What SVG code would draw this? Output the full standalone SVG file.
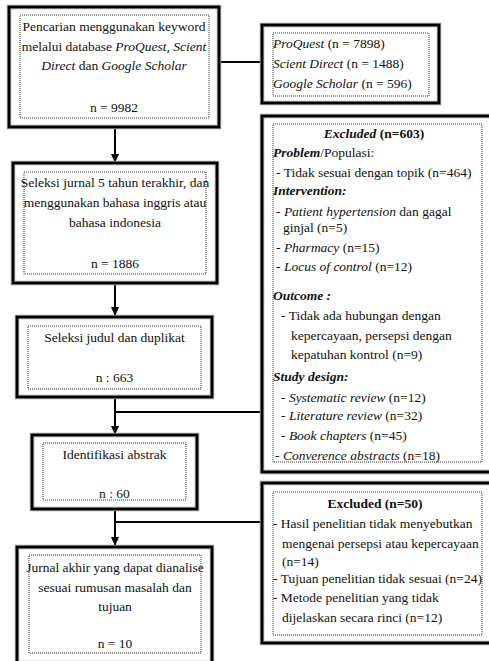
<svg xmlns="http://www.w3.org/2000/svg" width="489" height="661" viewBox="0 0 489 661">
<style>
text{font-family:"Liberation Serif","Times New Roman","DejaVu Serif",serif;font-size:13.5px;fill:#111}
.c{text-anchor:middle}
.i{font-style:italic}
.b{font-weight:bold}
.bi{font-weight:bold;font-style:italic}
.halo{fill:#fff;stroke:#9a9a9a;stroke-width:4.5}
.outer{fill:none;stroke:#000;stroke-width:2.6}
.dot{fill:none;stroke:#333;stroke-width:1;stroke-dasharray:1 1}
.con{fill:none;stroke:#000;stroke-width:2}
</style>
<defs>
<marker id="ah" markerWidth="9" markerHeight="8" refX="9" refY="4" orient="auto" markerUnits="userSpaceOnUse" viewBox="0 0 9 8">
<path d="M0,0 L9,4 L0,8 Z" fill="#000"/>
</marker>
</defs>
<rect width="489" height="661" fill="#fff"/>
<g id="connectors">
<line class="con" x1="115" y1="127" x2="115" y2="163" marker-end="url(#ah)"/>
<line class="con" x1="115" y1="283" x2="115" y2="316" marker-end="url(#ah)"/>
<line class="con" x1="115" y1="397" x2="115" y2="435" marker-end="url(#ah)"/>
<line class="con" x1="115" y1="509" x2="115" y2="546" marker-end="url(#ah)"/>
<line class="con" x1="219" y1="62" x2="262" y2="62"/>
<line class="con" x1="115" y1="412" x2="262" y2="412"/>
<line class="con" x1="115" y1="522" x2="262" y2="522"/>
</g>
<g id="n1">
<rect class="halo" x="9" y="7" width="210" height="120"/>
<rect class="outer" x="9" y="7" width="210" height="120"/>
<rect class="dot" x="20" y="15" width="189" height="103"/>
<text class="c" x="114" y="31">Pencarian menggunakan keyword</text>
<text class="c" x="114" y="50.5">melalui database <tspan class="i">ProQuest, Scient</tspan></text>
<text class="c" x="114" y="70"><tspan class="i">Direct</tspan>  dan <tspan class="i">Google Scholar</tspan></text>
<text class="c" x="114" y="112">n = 9982</text>
</g>
<g id="n2">
<rect class="halo" x="262" y="25" width="177" height="78"/>
<rect class="outer" x="262" y="25" width="177" height="78"/>
<rect class="dot" x="273" y="33" width="156" height="63"/>
<text x="273" y="48"><tspan class="i">ProQuest</tspan> (n = 7898)</text>
<text x="273" y="68"><tspan class="i">Scient Direct</tspan> (n = 1488)</text>
<text x="273" y="88"><tspan class="i">Google Scholar</tspan> (n = 596)</text>
</g>
<g id="n3">
<rect class="halo" x="13" y="163" width="204" height="120"/>
<rect class="outer" x="13" y="163" width="204" height="120"/>
<rect class="dot" x="24" y="172" width="182" height="102"/>
<text class="c" x="115" y="186.5">Seleksi jurnal 5 tahun terakhir, dan</text>
<text class="c" x="115" y="206.5">menggunakan bahasa inggris atau</text>
<text class="c" x="115" y="226.5">bahasa indonesia</text>
<text class="c" x="115" y="267.5">n = 1886</text>
</g>
<g id="n4">
<rect class="halo" x="262" y="116" width="232" height="356"/>
<rect class="outer" x="262" y="116" width="232" height="356"/>
<rect class="dot" x="273" y="124" width="209" height="338"/>
<text class="c" x="374" y="137.5"><tspan class="bi">Excluded</tspan><tspan class="b"> (n=603)</tspan></text>
<text x="273" y="156.5"><tspan class="bi">Problem</tspan>/Populasi:</text>
<text x="276" y="176.5">-  Tidak sesuai dengan topik (n=464)</text>
<text class="bi" x="273" y="194.5">Intervention:</text>
<text x="276" y="215.5">-  <tspan class="i">Patient hypertension</tspan>  dan gagal</text>
<text x="283" y="231.5">ginjal (n=5)</text>
<text x="276" y="251.5">-  <tspan class="i">Pharmacy</tspan> (n=15)</text>
<text x="276" y="270.5">-  <tspan class="i">Locus of control</tspan> (n=12)</text>
<text class="bi" x="273" y="299.5">Outcome :</text>
<text x="281" y="319.5">-  Tidak ada hubungan  dengan</text>
<text x="291" y="339.5">kepercayaan, persepsi dengan</text>
<text x="291" y="358.5">kepatuhan kontrol (n=9)</text>
<text class="bi" x="273" y="381">Study design:</text>
<text x="281" y="401.5">-  <tspan class="i">Systematic review</tspan>  (n=12)</text>
<text x="281" y="419.5">-  <tspan class="i">Literature review</tspan>  (n=32)</text>
<text x="281" y="439.5">-  <tspan class="i">Book chapters</tspan> (n=45)</text>
<text x="275" y="459.5">- <tspan class="i">Converence abstracts</tspan> (n=18)</text>
</g>
<g id="n5">
<rect class="halo" x="17" y="317" width="195" height="80"/>
<rect class="outer" x="17" y="317" width="195" height="80"/>
<rect class="dot" x="28" y="326" width="173" height="63"/>
<text class="c" x="114.5" y="341.5">Seleksi judul dan duplikat</text>
<text class="c" x="114.5" y="381.5">n : 663</text>
</g>
<g id="n6">
<rect class="halo" x="32" y="435" width="165" height="74"/>
<rect class="outer" x="32" y="435" width="165" height="74"/>
<rect class="dot" x="43" y="443" width="143" height="57"/>
<text class="c" x="114.5" y="458.5">Identifikasi abstrak</text>
<text class="c" x="114.5" y="497.5">n : 60</text>
</g>
<g id="n7">
<rect class="halo" x="262" y="483" width="232" height="160"/>
<rect class="outer" x="262" y="483" width="232" height="160"/>
<rect class="dot" x="273" y="492" width="209" height="143"/>
<text class="c b" x="375" y="507.5">Excluded (n=50)</text>
<text x="273" y="527.5">-  Hasil penelitian tidak menyebutkan</text>
<text x="282" y="547.5">mengenai persepsi atau kepercayaan</text>
<text x="282" y="565.5">(n=14)</text>
<text x="273" y="582.5">-  Tujuan penelitian tidak sesuai (n=24)</text>
<text x="273" y="601.5">-  Metode penelitian yang tidak</text>
<text x="282" y="621.5">dijelaskan secara rinci (n=12)</text>
</g>
<g id="n8">
<rect class="halo" x="17" y="547" width="195" height="116"/>
<rect class="outer" x="17" y="547" width="195" height="116"/>
<rect class="dot" x="29" y="555" width="172" height="98"/>
<text class="c" x="115" y="571.5">Jurnal akhir yang dapat dianalise</text>
<text class="c" x="115" y="591.5">sesuai rumusan masalah dan</text>
<text class="c" x="115" y="610.5">tujuan</text>
<text class="c" x="115" y="647.5">n = 10</text>
</g>
</svg>
